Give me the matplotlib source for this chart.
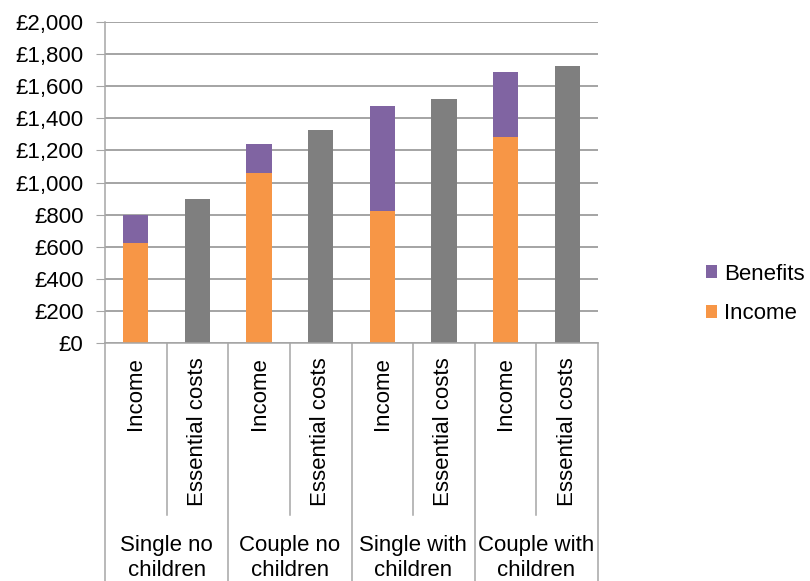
import numpy as np
import matplotlib
matplotlib.use('Agg')
import matplotlib.pyplot as plt
import matplotlib.transforms as mtransforms

plt.rcParams['font.family'] = ['Liberation Sans', 'DejaVu Sans']

# Data
groups = ['Single no\nchildren', 'Couple no\nchildren', 'Single with\nchildren', 'Couple with\nchildren']
bar_labels = ['Income', 'Essential costs'] * 4
income = [621, 0, 1057, 0, 822, 0, 1286, 0]
benefits = [179, 0, 181, 0, 657, 4, 402, 4]
essential = [0, 897, 0, 1327, 0, 1518, 0, 1724]

orange = '#F79646'
purple = '#8064A2'
grey = '#7F7F7F'
linecol = '#A6A6A6'
fs = 16

fig = plt.figure(figsize=(8.1, 5.81), dpi=100)
ax = fig.add_axes([105 / 810, 1 - 343 / 581, (598 - 105) / 810, (343 - 22) / 581])

x = np.arange(len(bar_labels))
w = 0.41
ax.bar(x, essential, w, color=grey, zorder=3)
ax.bar(x, income, w, color=orange, label='Income', zorder=3)
ax.bar(x, benefits, w, bottom=np.array(income) + np.array(essential), color=purple,
       label='Benefits', zorder=3)

ax.set_xlim(-0.5, 7.5)
ax.set_ylim(0, 2000)
ax.set_yticks(range(0, 2001, 200))
ax.set_yticklabels([f'£{v:,}' for v in range(0, 2001, 200)], fontsize=fs)
ax.yaxis.grid(True, color='#8C8C8C', linewidth=1.1, zorder=0)
ax.set_xticks([])
ax.tick_params(axis='y', length=6.5, color=linecol, pad=9)
for s in ['top', 'right', 'bottom']:
    ax.spines[s].set_visible(False)
ax.spines['left'].set_color(linecol)
ax.spines['left'].set_linewidth(1.1)

# multi level category axis
trans = mtransforms.blended_transform_factory(ax.transData, ax.transAxes)
bottom_y = -238 / 321
ax.plot([-0.5, 7.5], [0, 0], transform=trans, color=linecol, lw=1.1, clip_on=False, zorder=4)
for i in range(9):
    xb = i - 0.5
    if i % 2 == 0:
        ax.plot([xb, xb], [0, bottom_y], transform=trans, color=linecol, lw=1.1, clip_on=False)
    else:
        ax.plot([xb, xb], [0, -172 / 321], transform=trans, color=linecol, lw=1.1, clip_on=False)

for xi, lab in zip(x, bar_labels):
    ax.text(xi, -14 / 321, lab, transform=trans, rotation=90, ha='center', va='top', fontsize=fs)

for g, lab in enumerate(groups):
    ax.text(2 * g + 0.5, -215 / 321, lab, transform=trans, ha='center', va='center',
            fontsize=fs, linespacing=1.25)

handles, labels = ax.get_legend_handles_labels()
fig.legend(handles[::-1], labels[::-1], loc='center left', bbox_to_anchor=(706 / 810, 1 - 294 / 581),
           frameon=False, fontsize=fs, handlelength=0.5, handleheight=0.5,
           handletextpad=0.3, labelspacing=0.85, borderpad=0, borderaxespad=0)

fig.savefig('out.png', dpi=100)
